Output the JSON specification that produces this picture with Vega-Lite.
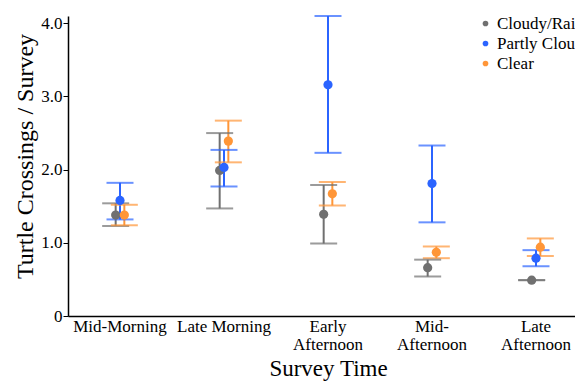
{
  "$schema": "https://vega.github.io/schema/vega-lite/v6.json",
  "width": 520,
  "height": 300,
  "autosize": "none",
  "padding": {"left": 68, "top": 16, "right": 0, "bottom": 67},
  "background": "white",
  "config": {
    "view": {"stroke": null},
    "font": "Liberation Serif",
    "axis": {"domainColor": "black", "domainWidth": 1.5, "tickColor": "black", "labelColor": "black", "titleColor": "black", "grid": false, "titleFontWeight": "normal", "labelFont": "Liberation Serif", "titleFont": "Liberation Serif"}
  },
  "data": {
    "values": [
      {"time": "Mid-Morning", "weather": "Cloudy/Rain", "mean": 1.38, "lo": 1.23, "hi": 1.54},
      {"time": "Mid-Morning", "weather": "Partly Cloudy", "mean": 1.58, "lo": 1.32, "hi": 1.82},
      {"time": "Mid-Morning", "weather": "Clear", "mean": 1.38, "lo": 1.24, "hi": 1.52},
      {"time": "Late Morning", "weather": "Cloudy/Rain", "mean": 1.99, "lo": 1.47, "hi": 2.5},
      {"time": "Late Morning", "weather": "Partly Cloudy", "mean": 2.03, "lo": 1.77, "hi": 2.27},
      {"time": "Late Morning", "weather": "Clear", "mean": 2.39, "lo": 2.1, "hi": 2.67},
      {"time": "Early Afternoon", "weather": "Cloudy/Rain", "mean": 1.39, "lo": 0.99, "hi": 1.79},
      {"time": "Early Afternoon", "weather": "Partly Cloudy", "mean": 3.16, "lo": 2.23, "hi": 4.1},
      {"time": "Early Afternoon", "weather": "Clear", "mean": 1.67, "lo": 1.51, "hi": 1.83},
      {"time": "Mid-Afternoon", "weather": "Cloudy/Rain", "mean": 0.66, "lo": 0.54, "hi": 0.77},
      {"time": "Mid-Afternoon", "weather": "Partly Cloudy", "mean": 1.81, "lo": 1.28, "hi": 2.33},
      {"time": "Mid-Afternoon", "weather": "Clear", "mean": 0.87, "lo": 0.79, "hi": 0.95},
      {"time": "Late Afternoon", "weather": "Cloudy/Rain", "mean": 0.49, "lo": 0.49, "hi": 0.49},
      {"time": "Late Afternoon", "weather": "Partly Cloudy", "mean": 0.79, "lo": 0.68, "hi": 0.9},
      {"time": "Late Afternoon", "weather": "Clear", "mean": 0.94, "lo": 0.82, "hi": 1.06}
    ]
  },
  "encoding": {
    "x": {
      "field": "time", "type": "nominal",
      "sort": ["Mid-Morning", "Late Morning", "Early Afternoon", "Mid-Afternoon", "Late Afternoon"],
      "scale": {"paddingInner": 0, "paddingOuter": 0},
      "axis": {
        "title": "Survey Time", "titleFontSize": 23, "titlePadding": 5,
        "labelAngle": 0, "labelFontSize": 17, "labelPadding": 2, "ticks": false, "labelLineHeight": 18,
        "labelExpr": "datum.label == 'Early Afternoon' ? ['Early', 'Afternoon'] : datum.label == 'Mid-Afternoon' ? ['Mid-', 'Afternoon'] : datum.label == 'Late Afternoon' ? ['Late', 'Afternoon'] : datum.label"
      }
    },
    "xOffset": {
      "field": "weather", "type": "nominal",
      "sort": ["Cloudy/Rain", "Partly Cloudy", "Clear"],
      "scale": {"paddingInner": 0, "paddingOuter": 0, "range": [45.5, 58.5]}
    },
    "color": {
      "field": "weather", "type": "nominal",
      "sort": ["Cloudy/Rain", "Partly Cloudy", "Clear"],
      "scale": {"domain": ["Cloudy/Rain", "Partly Cloudy", "Clear"], "range": ["#707070", "#2b64ff", "#ff9638"]},
      "legend": {
        "title": null, "orient": "none", "legendX": 409, "legendY": -1,
        "symbolType": "circle", "symbolSize": 32, "labelFontSize": 17, "labelColor": "black", "labelFont": "Liberation Serif",
        "rowPadding": 2, "labelOffset": 3, "symbolStrokeWidth": 0, "labelLimit": 300,
        "encode": {
          "symbols": {"update": {"fill": {"scale": "color", "field": "value"}, "fillOpacity": {"value": 1}}}
        }
      }
    }
  },
  "layer": [
    {
      "mark": {"type": "rule", "strokeWidth": 2},
      "encoding": {
        "y": {
          "field": "lo", "type": "quantitative",
          "scale": {"domain": [0, 4.1], "nice": false},
          "axis": {
            "title": "Turtle Crossings / Survey", "titleFontSize": 24, "titleLimit": 400,
            "titleAngle": -90, "titleX": -36, "titleY": 140, "titleAlign": "center", "titleBaseline": "alphabetic",
            "values": [0, 0.5, 1, 1.5, 2, 2.5, 3, 3.5, 4],
            "labelFontSize": 17, "tickSize": 5, "labelPadding": 1,
            "labelExpr": "datum.value == 0 ? '0' : (datum.value % 1 == 0 ? format(datum.value, '.1f') : '')"
          }
        },
        "y2": {"field": "hi"}
      }
    },
    {
      "mark": {"type": "tick", "size": 27, "thickness": 2},
      "encoding": {"y": {"field": "lo", "type": "quantitative"}}
    },
    {
      "mark": {"type": "tick", "size": 27, "thickness": 2},
      "encoding": {"y": {"field": "hi", "type": "quantitative"}}
    },
    {
      "mark": {"type": "circle", "size": 85, "opacity": 1},
      "encoding": {
        "y": {"field": "mean", "type": "quantitative"}
      }
    }
  ]
}
